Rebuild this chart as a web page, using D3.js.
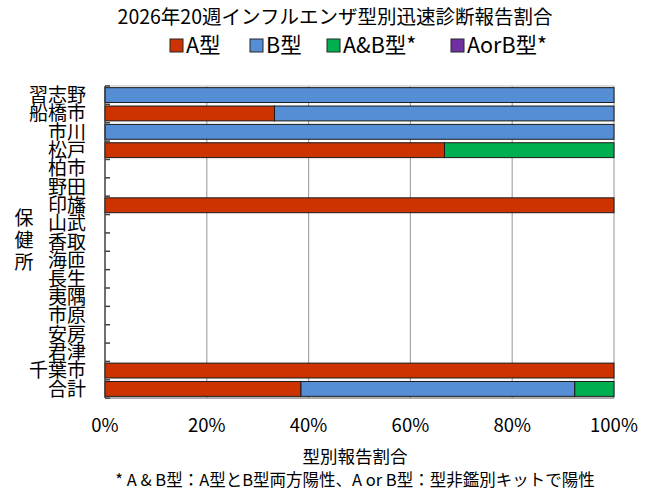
<!DOCTYPE html>
<html>
<head>
<meta charset="utf-8">
<script src="https://cdn.jsdelivr.net/npm/d3@7"></script>
<style>
  body { margin: 0; background: #fff; }
  svg { display: block; font-family: "Noto Sans CJK JP", "Noto Sans", sans-serif; }
</style>
</head>
<body>
<svg id="chart" width="653" height="493"></svg>
<script>
const categories = ['習志野', '船橋市', '市川', '松戸', '柏市', '野田', '印旛', '山武', '香取',
  '海匝', '長生', '夷隅', '市原', '安房', '君津', '千葉市', '合計'];
// percentages per type
const typeA    = [0, 33.3, 0, 66.7, 0, 0, 100, 0, 0, 0, 0, 0, 0, 0, 0, 100, 38.5];
const typeB    = [100, 66.7, 100, 0, 0, 0, 0, 0, 0, 0, 0, 0, 0, 0, 0, 0, 53.8];
const typeAB   = [0, 0, 0, 33.3, 0, 0, 0, 0, 0, 0, 0, 0, 0, 0, 0, 0, 7.7];
const typeAorB = [0, 0, 0, 0, 0, 0, 0, 0, 0, 0, 0, 0, 0, 0, 0, 0, 0];
const seriesNames = ['A型', 'B型', 'A&B型*', 'AorB型*'];
const seriesColors = ['#CC3300', '#558ED5', '#00B050', '#7030A0'];
const xTicks = [0, 20, 40, 60, 80, 100];

const svg = d3.select('#chart');
const plot = { left: 105, right: 614, top: 86, bottom: 398 };

const rows = categories.map((c, i) => ({
  cat: c, s0: typeA[i], s1: typeB[i], s2: typeAB[i], s3: typeAorB[i]
}));
const keys = ['s0', 's1', 's2', 's3'];
const stacked = d3.stack().keys(keys)(rows);

const x = d3.scaleLinear().domain([0, 100]).range([plot.left, plot.right]);
const y = d3.scaleBand().domain(categories).range([plot.top, plot.bottom]).paddingInner(0.19).paddingOuter(0.09);

// title
svg.append('text')
  .attr('x', 335).attr('y', 24)
  .attr('text-anchor', 'middle')
  .attr('font-size', 19.5)
  .attr('fill', '#000')
  .text('2026年20週インフルエンザ型別迅速診断報告割合');

// legend
const legendX = [170, 250, 327, 451];
const legend = svg.append('g');
seriesNames.forEach((n, i) => {
  const lx = legendX[i];
  legend.append('rect')
    .attr('x', lx).attr('y', 39).attr('width', 13).attr('height', 13)
    .attr('fill', seriesColors[i]).attr('stroke', '#262626').attr('stroke-width', 1);
  legend.append('text')
    .attr('x', lx + 16).attr('y', 53)
    .attr('font-size', 21.5)
    .text(n);
});

// gridlines
svg.append('g')
  .selectAll('line')
  .data(xTicks.slice(1))
  .join('line')
  .attr('x1', d => x(d)).attr('x2', d => x(d))
  .attr('y1', plot.top).attr('y2', plot.bottom)
  .attr('stroke', '#A6A6A6').attr('stroke-width', 1.2);

svg.append('line')
  .attr('x1', plot.left).attr('x2', plot.right)
  .attr('y1', plot.top).attr('y2', plot.top)
  .attr('stroke', '#BFBFBF').attr('stroke-width', 1);

// bars
svg.append('g')
  .selectAll('g')
  .data(stacked)
  .join('g')
  .attr('fill', (d, i) => seriesColors[i])
  .selectAll('rect')
  .data(d => d.filter(p => p[1] - p[0] > 0))
  .join('rect')
  .attr('x', p => x(p[0]))
  .attr('y', p => y(p.data.cat))
  .attr('width', p => x(p[1]) - x(p[0]))
  .attr('height', y.bandwidth())
  .attr('stroke', '#1a1a1a')
  .attr('stroke-width', 1);

// left axis with inward ticks at category boundaries
const step = y.step();
const bounds = d3.range(categories.length + 1).map(i => plot.top + i * step);
svg.append('g')
  .selectAll('line')
  .data(bounds)
  .join('line')
  .attr('x1', plot.left).attr('x2', plot.left + 5)
  .attr('y1', d => d).attr('y2', d => d)
  .attr('stroke', '#404040').attr('stroke-width', 1.5);
svg.append('line')
  .attr('x1', plot.left).attr('x2', plot.left)
  .attr('y1', plot.top).attr('y2', plot.bottom)
  .attr('stroke', '#404040').attr('stroke-width', 1.5);
svg.append('line')
  .attr('x1', plot.left).attr('x2', plot.right)
  .attr('y1', plot.bottom).attr('y2', plot.bottom)
  .attr('stroke', '#595959').attr('stroke-width', 1.2);

// category labels
svg.append('g')
  .selectAll('text')
  .data(categories)
  .join('text')
  .attr('x', 86)
  .attr('y', d => y(d) + y.bandwidth() / 2)
  .attr('dy', '0.36em')
  .attr('text-anchor', 'end')
  .attr('font-size', 19)
  .text(d => d);

// y axis title, stacked
const yTitle = svg.append('text')
  .attr('x', 24).attr('text-anchor', 'middle').attr('font-size', 19);
['保', '健', '所'].forEach((ch, i) => {
  yTitle.append('tspan').attr('x', 24).attr('y', 225 + i * 22).text(ch);
});

// x tick labels
svg.append('g')
  .selectAll('text')
  .data(xTicks)
  .join('text')
  .attr('x', d => x(d))
  .attr('y', 432)
  .attr('text-anchor', 'middle')
  .attr('font-size', 18.5)
  .text(d => d + '%');

svg.append('text')
  .attr('x', 355).attr('y', 463)
  .attr('text-anchor', 'middle')
  .attr('font-size', 17.5)
  .text('型別報告割合');

svg.append('text')
  .attr('x', 355).attr('y', 486)
  .attr('text-anchor', 'middle')
  .attr('font-size', 16.5)
  .text('* A & B型：A型とB型両方陽性、A or B型：型非鑑別キットで陽性');
</script>
</body>
</html>
